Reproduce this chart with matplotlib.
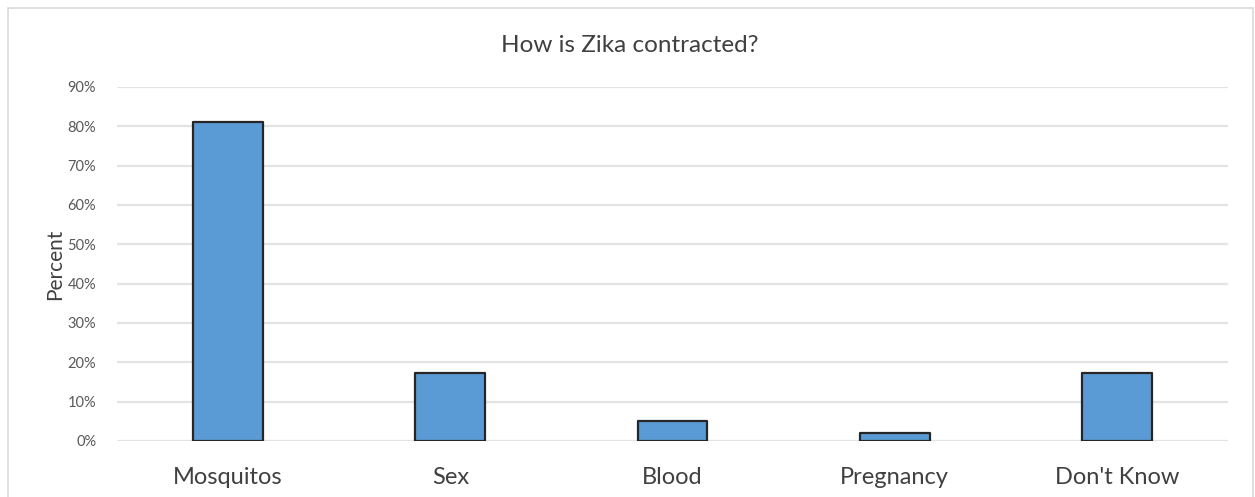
import matplotlib
matplotlib.use("Agg")
import matplotlib.pyplot as plt
from matplotlib.patches import Rectangle
from matplotlib.ticker import PercentFormatter

categories = ["Mosquitos", "Sex", "Blood", "Pregnancy", "Don't Know"]
percent = [81, 17.4, 5.1, 2.1, 17.4]
y_ticks = [0, 10, 20, 30, 40, 50, 60, 70, 80, 90]

plt.rcParams["font.family"] = ["Lato", "DejaVu Sans"]

W, H = 1255, 497
fig = plt.figure(figsize=(W / 100, H / 100), dpi=100)

# chart-area frame
fig.patches.append(Rectangle((8 / W, -0.01), (1253 - 8) / W, (H - 8) / H + 0.01,
                             transform=fig.transFigure, fill=False,
                             edgecolor="#D9D9D9", linewidth=1.2))

left, right = 117 / W, 1228 / W
bottom, top = (H - 441) / H, (H - 87) / H
ax = fig.add_axes([left, bottom, right - left, top - bottom])

x = range(len(categories))
ax.bar(x, percent, width=0.315, color="#5B9BD5", edgecolor="#262626",
       linewidth=1.6, joinstyle="round", zorder=3)

ax.set_xlim(-0.5, len(categories) - 0.5)
ax.set_ylim(0, 90)
ax.set_yticks(y_ticks)
ax.yaxis.set_major_formatter(PercentFormatter(decimals=0))
ax.set_xticks(list(x))
ax.set_xticklabels(categories, fontsize=17, color="#404040")
ax.tick_params(axis="x", length=0, pad=19)
ax.tick_params(axis="y", length=0, labelsize=10.5, labelcolor="#595959", pad=15)
ax.grid(axis="y", color="#E3E3E3", linewidth=1.6, zorder=0)
for s in ax.spines.values():
    s.set_visible(False)

ax.set_ylabel("Percent", fontsize=15, color="#404040")
ax.yaxis.set_label_coords((65 - 117) / (1228 - 117), 0.5)
fig.text(630 / W, (H - 45) / H, "How is Zika contracted?", ha="center",
         va="center", fontsize=17.5, color="#404040")

fig.savefig("out.png", dpi=100)
